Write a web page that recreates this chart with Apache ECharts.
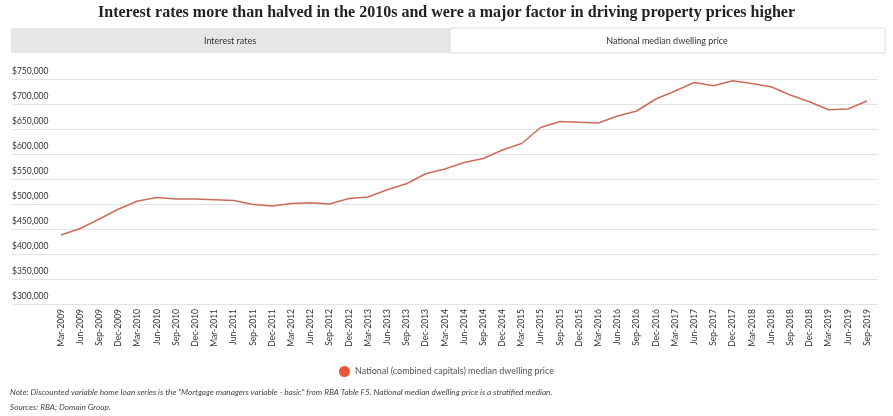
<!DOCTYPE html>
<html><head><meta charset="utf-8">
<script src="https://cdn.jsdelivr.net/npm/echarts@6/dist/echarts.min.js"></script>
<style>html,body{margin:0;padding:0;background:#fff}#c{width:893px;height:416px}</style>
</head><body><div id="c"></div>
<script>
const titleText = 'Interest rates more than halved in the 2010s and were a major factor in driving property prices higher';
const tabLabels = ['Interest rates', 'National median dwelling price'];
const seriesName = 'National (combined capitals) median dwelling price';
const noteText = 'Note: Discounted variable home loan series is the "Mortgage managers variable - basic" from RBA Table F5. National median dwelling price is a stratified median.';
const sourceText = 'Sources: RBA; Domain Group.';
const months = ['Mar', 'Jun', 'Sep', 'Dec'];
const years = [2009, 2010, 2011, 2012, 2013, 2014, 2015, 2016, 2017, 2018, 2019];
const categories = [];
years.forEach(y => months.forEach(m => categories.push(m + '-' + y)));
categories.length = 43; // Mar-2009 .. Sep-2019
const prices = [438000, 451000, 470000, 490000, 506000, 513000, 510000, 510000, 508500, 507000,
  499000, 496000, 501000, 502500, 500000, 511000, 514000, 528500, 540500, 560500,
  570000, 583000, 591000, 608000, 621000, 653000, 665000, 663500, 662000, 676000,
  686000, 710000, 726000, 743000, 736500, 746500, 741000, 734500, 718000, 704500,
  688500, 690000, 706000];
const yMin = 300000, yMax = 750000, yStep = 50000;

const chart = echarts.init(document.getElementById('c'), null, {renderer: 'canvas'});
const font = 'Lato, "Open Sans", sans-serif';
chart.setOption({
  animation: false,
  backgroundColor: '#fff',
  title: {
    text: titleText, left: 'center', top: 0,
    textStyle: {fontFamily: '"Liberation Serif", serif', fontWeight: 'bold', fontSize: 16, color: '#222'}
  },
  graphic: [
    {type: 'rect', shape: {x: 11, y: 28, width: 439, height: 25}, style: {fill: '#e6e6e6'}},
    {type: 'rect', shape: {x: 450, y: 28, width: 435, height: 25}, style: {fill: '#fff', stroke: '#dcdcdc', lineWidth: 1}},
    {type: 'text', x: 230, y: 41, style: {text: tabLabels[0], fill: '#333', font: '9px ' + font, align: 'center', verticalAlign: 'middle'}},
    {type: 'text', x: 667, y: 41, style: {text: tabLabels[1], fill: '#333', font: '9px ' + font, align: 'center', verticalAlign: 'middle'}},
    {type: 'text', x: 10, y: 392, style: {text: noteText, fill: '#444', font: 'italic 8.2px ' + font, verticalAlign: 'middle'}},
    {type: 'text', x: 10, y: 407, style: {text: sourceText, fill: '#444', font: 'italic 8.2px ' + font, verticalAlign: 'middle'}}
  ],
  legend: {
    data: [seriesName], left: 334, top: 361, icon: 'circle', itemWidth: 11, itemHeight: 11, itemGap: 5,
    textStyle: {fontFamily: font, fontSize: 9, color: '#555'}
  },
  grid: [
    {left: 12, right: 15, top: 79, bottom: 112},
    {left: 61, right: 26, top: 79, bottom: 112}
  ],
  xAxis: [
    {type: 'value', gridIndex: 0, show: false, min: 0, max: 1},
    {type: 'category', gridIndex: 1, data: categories, boundaryGap: false,
      axisLine: {show: false}, axisTick: {show: false},
      axisLabel: {rotate: 90, interval: 0, margin: 5, fontFamily: font, fontSize: 8.5, color: '#333'}}
  ],
  yAxis: [
    {type: 'value', gridIndex: 0, min: yMin, max: yMax, interval: yStep,
      axisLine: {show: false}, axisTick: {show: false},
      splitLine: {lineStyle: {color: '#e3e3e3', width: 1}},
      axisLabel: {inside: true, margin: 0, verticalAlign: 'bottom', padding: [0, 0, 3, 0],
        fontFamily: font, fontSize: 8.5, color: '#333',
        formatter: v => '$' + v.toLocaleString('en-US')}},
    {type: 'value', gridIndex: 1, min: yMin, max: yMax, interval: yStep, show: false, splitLine: {show: false}}
  ],
  series: [{
    name: seriesName, type: 'line', xAxisIndex: 1, yAxisIndex: 1, data: prices,
    showSymbol: false, symbol: 'circle',
    itemStyle: {color: '#e8553a'},
    lineStyle: {color: '#cc6c5a', width: 1.5}
  }]
});
</script></body></html>
